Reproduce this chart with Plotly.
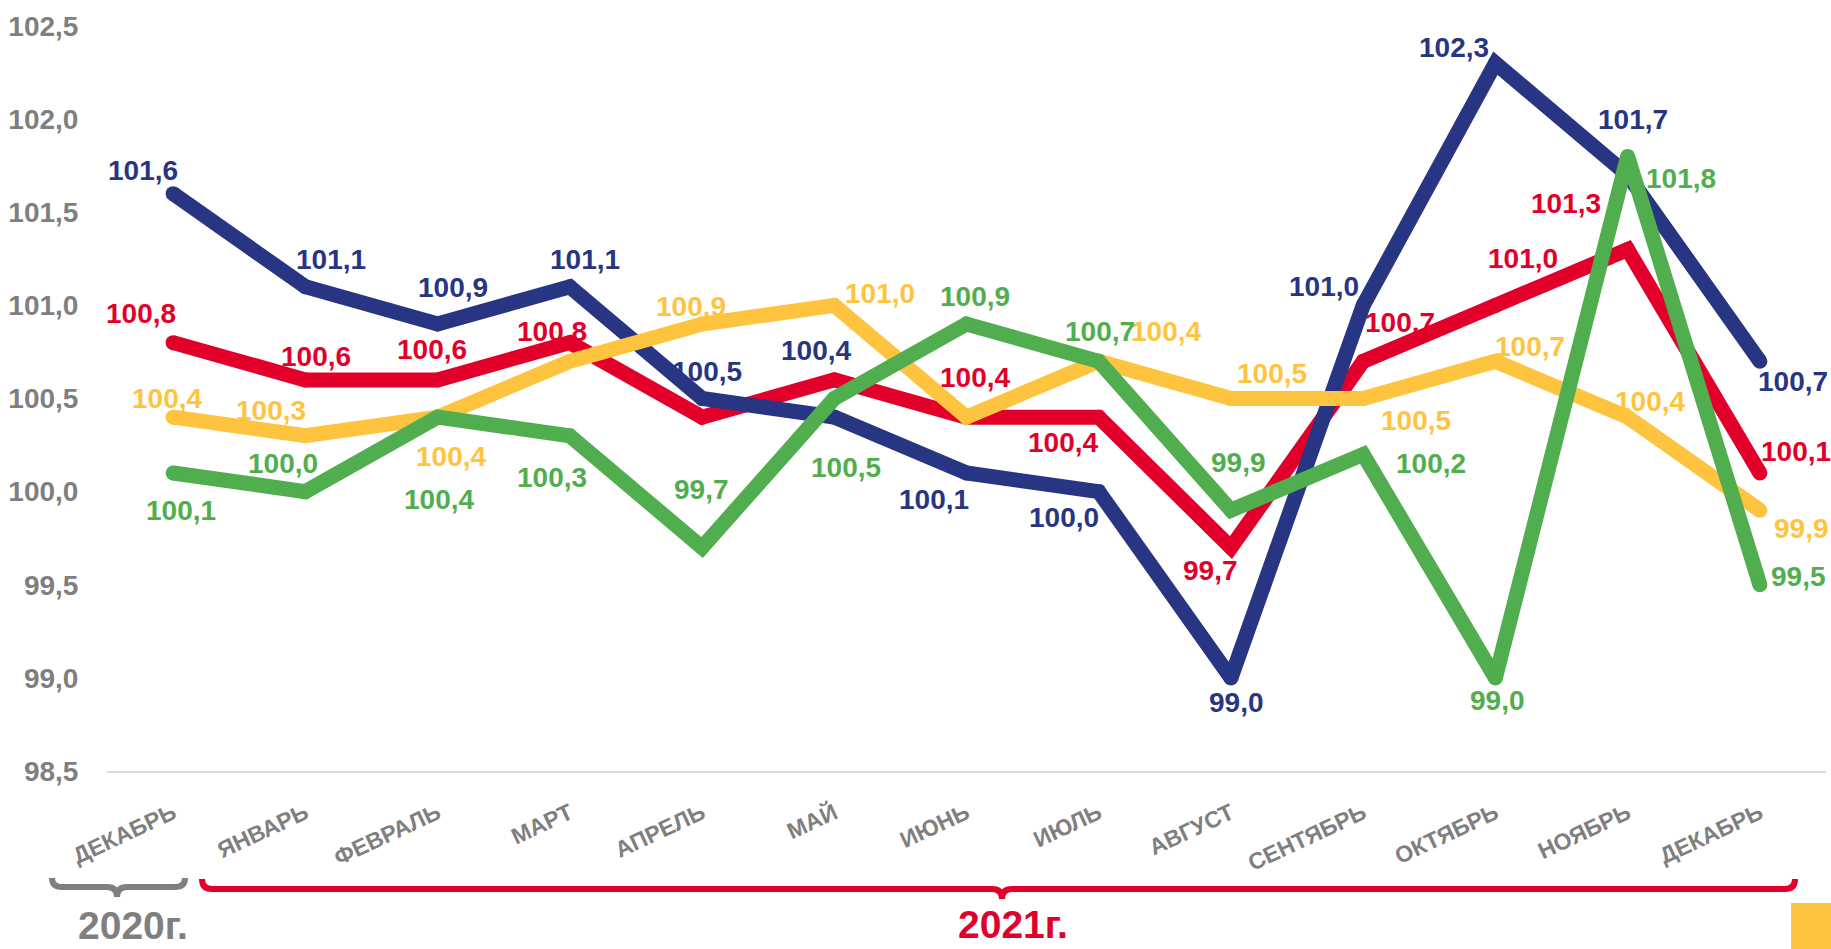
import plotly.graph_objects as go

# ---------------- data ----------------
months = ["ДЕКАБРЬ", "ЯНВАРЬ", "ФЕВРАЛЬ", "МАРТ", "АПРЕЛЬ", "МАЙ", "ИЮНЬ",
          "ИЮЛЬ", "АВГУСТ", "СЕНТЯБРЬ", "ОКТЯБРЬ", "НОЯБРЬ", "ДЕКАБРЬ"]
blue = [101.6, 101.1, 100.9, 101.1, 100.5, 100.4, 100.1, 100.0, 99.0, 101.0, 102.3, 101.7, 100.7]
red = [100.8, 100.6, 100.6, 100.8, 100.4, 100.6, 100.4, 100.4, 99.7, 100.7, 101.0, 101.3, 100.1]
yellow = [100.4, 100.3, 100.4, 100.7, 100.9, 101.0, 100.4, 100.7, 100.5, 100.5, 100.7, 100.4, 99.9]
green = [100.1, 100.0, 100.4, 100.3, 99.7, 100.5, 100.9, 100.7, 99.9, 100.2, 99.0, 101.8, 99.5]
y_ticks = [98.5, 99.0, 99.5, 100.0, 100.5, 101.0, 101.5, 102.0, 102.5]
y_tick_labels = ["98,5", "99,0", "99,5", "100,0", "100,5", "101,0", "101,5", "102,0", "102,5"]
year_labels = ["2020г.", "2021г."]

# ---------------- styles ----------------
C_BLUE = "#283583"
C_RED = "#E2002B"
C_YEL = "#FFC43F"
C_GRN = "#51AE4F"
C_GREY = "#7F7F7F"
FONT = "Liberation Sans, Arial, sans-serif"

# label offsets in px (dx right, dy down); None = label hidden
off_blue = [(-30, -23), (26, -27), (15, -37), (15, -27), (5, -27), (-18, -67), (-33, 26),
            (-35, 26), (6, 25), (-39, -19), (-41, -16), (5, -56), (33, 20)]
off_red = [(-32, -29), (11, -23), (-6, -30), (-18, -11), None, None, (8, -40),
           (-36, 25), (-20, 23), (37, -39), (28, -47), (-62, -46), (36, -22)]
off_yel = [(-6, -19), (-34, -25), (13, 39), None, (-11, -18), (46, -12), (199, -86),
           None, (41, -25), (53, 22), (35, -15), (22, -16), (42, 18)]
off_grn = [(8, 37), (-22, -28), (1, 82), (-18, 42), (-1, -58), (12, 69), (8, -28),
           (1, -30), (8, -48), (68, 9), (2, 23), (53, 22), (39, -8)]

W, H = 1831, 949
ML, MR, MT, MB = 107, 5, 26, 178
PW, PH = W - ML - MR, H - MT - MB


def px(xp):
    return (xp - ML) / PW


def py(yp):
    return (H - MB - yp) / PH


x = list(range(len(months)))
fig = go.Figure()

series = [(red, C_RED, off_red), (blue, C_BLUE, off_blue),
          (yellow, C_YEL, off_yel), (green, C_GRN, off_grn)]
for vals, col, _ in series:
    fig.add_trace(go.Scatter(
        x=x, y=vals, mode="lines+markers",
        line=dict(color=col, width=15),
        marker=dict(color=col, size=15, line=dict(width=0)),
        hoverinfo="skip", showlegend=False, cliponaxis=False))

annotations = []
for vals, col, offs in series:
    for i, (v, o) in enumerate(zip(vals, offs)):
        if o is None:
            continue
        annotations.append(dict(
            x=i, y=v, xref="x", yref="y", showarrow=False,
            text=f"{v:.1f}".replace(".", ","),
            xshift=o[0], yshift=-o[1],
            font=dict(family=FONT, size=28, color=col, weight="bold")))

annotations.append(dict(x=px(133), y=py(925), xref="paper", yref="paper", showarrow=False,
                        xanchor="center", yanchor="middle", text=year_labels[0],
                        font=dict(family=FONT, size=39, color=C_GREY, weight="bold")))
annotations.append(dict(x=px(1013), y=py(924), xref="paper", yref="paper", showarrow=False,
                        xanchor="center", yanchor="middle", text=year_labels[1],
                        font=dict(family=FONT, size=39, color=C_RED, weight="bold")))


def brace(x1, xm, x2, ybot, ytop, ypt, r=10):
    pts = [
        f"M {px(x1)},{py(ytop)}",
        f"Q {px(x1)},{py(ybot)} {px(x1 + r)},{py(ybot)}",
        f"L {px(xm - r)},{py(ybot)}",
        f"Q {px(xm)},{py(ybot)} {px(xm)},{py(ypt)}",
        f"Q {px(xm)},{py(ybot)} {px(xm + r)},{py(ybot)}",
        f"L {px(x2 - r)},{py(ybot)}",
        f"Q {px(x2)},{py(ybot)} {px(x2)},{py(ytop)}",
    ]
    return " ".join(pts)


shapes = [
    dict(type="path", xref="paper", yref="paper", path=brace(52, 117, 185, 887, 878, 897),
         line=dict(color=C_GREY, width=6)),
    dict(type="path", xref="paper", yref="paper", path=brace(202, 1002, 1795, 889, 879, 899),
         line=dict(color=C_RED, width=6)),
    dict(type="rect", xref="paper", yref="paper", x0=px(1791), x1=px(1835), y0=py(949), y1=py(903),
         fillcolor=C_YEL, line=dict(width=0)),
]

fig.update_layout(
    width=W, height=H, autosize=False,
    margin=dict(l=ML, r=MR, t=MT, b=MB),
    paper_bgcolor="white", plot_bgcolor="white",
    annotations=annotations, shapes=shapes,
    xaxis=dict(range=[-0.5, 12.5], tickmode="array", tickvals=x, ticktext=months,
               tickangle=-25, showgrid=False, zeroline=False,
               showline=True, linecolor="#D9D9D9", linewidth=2,
               ticks="outside", ticklen=18, tickcolor="rgba(0,0,0,0)",
               tickfont=dict(family=FONT, size=23, color=C_GREY, weight="bold")),
    yaxis=dict(range=[98.5, 102.5], tickmode="array", tickvals=y_ticks, ticktext=y_tick_labels,
               showgrid=False, zeroline=False, showline=False,
               ticks="outside", ticklen=22, tickcolor="rgba(0,0,0,0)",
               tickfont=dict(family=FONT, size=28, color=C_GREY, weight="bold")),
)

fig.write_html("out.html", config={"displayModeBar": False},
               post_script="document.body.style.margin='0';document.body.style.overflow='hidden';")
